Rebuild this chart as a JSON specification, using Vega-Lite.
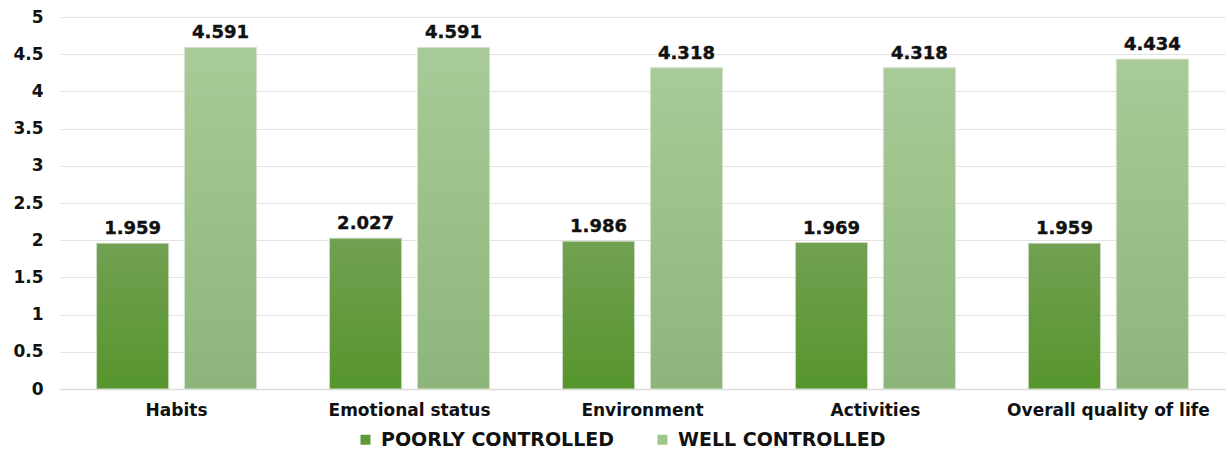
{
  "$schema": "https://vega.github.io/schema/vega-lite/v6.json",
  "autosize": "none",
  "width": 1165,
  "height": 372,
  "padding": {"left": 60, "top": 17, "right": 3, "bottom": 61},
  "background": "white",
  "config": {
    "font": "DejaVu Sans",
    "view": {"stroke": null},
    "axis": {"labelFont": "DejaVu Sans", "labelFontWeight": "bold", "labelColor": "#111111", "labelFontSize": 17}
  },
  "data": {
    "values": [
      {"domain": "Habits", "group": "POORLY CONTROLLED", "score": 1.959},
      {"domain": "Habits", "group": "WELL CONTROLLED", "score": 4.591},
      {"domain": "Emotional status", "group": "POORLY CONTROLLED", "score": 2.027},
      {"domain": "Emotional status", "group": "WELL CONTROLLED", "score": 4.591},
      {"domain": "Environment", "group": "POORLY CONTROLLED", "score": 1.986},
      {"domain": "Environment", "group": "WELL CONTROLLED", "score": 4.318},
      {"domain": "Activities", "group": "POORLY CONTROLLED", "score": 1.969},
      {"domain": "Activities", "group": "WELL CONTROLLED", "score": 4.318},
      {"domain": "Overall quality of life", "group": "POORLY CONTROLLED", "score": 1.959},
      {"domain": "Overall quality of life", "group": "WELL CONTROLLED", "score": 4.434}
    ]
  },
  "encoding": {
    "x": {
      "field": "domain", "type": "nominal", "sort": null,
      "scale": {"paddingInner": 0.313, "paddingOuter": 0.157},
      "axis": {"title": null, "labelAngle": 0, "ticks": false, "domain": true, "domainColor": "#dcdcdc", "domainWidth": 1.5, "labelPadding": 13, "labelLimit": 0}
    },
    "xOffset": {"field": "group", "type": "nominal", "scale": {"paddingInner": 0.18, "paddingOuter": 0}},
    "y": {
      "field": "score", "type": "quantitative",
      "scale": {"domain": [0, 5]},
      "axis": {"title": null, "values": [0, 0.5, 1, 1.5, 2, 2.5, 3, 3.5, 4, 4.5, 5], "labelExpr": "datum.value", "labelFontSize": 17, "domain": false, "ticks": false, "gridColor": "#e3e3e3", "gridWidth": 1.2, "labelPadding": 17}
    }
  },
  "layer": [
    {
      "mark": {"type": "bar"},
      "encoding": {
        "color": {
          "field": "group", "type": "nominal",
          "scale": {"domain": ["POORLY CONTROLLED", "WELL CONTROLLED"], "range": ["#5f9a38", "#9ec58a"]},
          "legend": {
            "title": null, "orient": "none", "direction": "horizontal",
            "legendX": 296, "legendY": 413,
            "symbolType": "square", "symbolSize": 100, "symbolStrokeWidth": 0,
            "labelFont": "DejaVu Sans", "labelFontWeight": "bold", "labelFontSize": 19, "labelColor": "#111111",
            "labelLimit": 0, "columnPadding": 38, "labelOffset": 6
          }
        }
      }
    },
    {
      "transform": [{"filter": "datum.group === 'POORLY CONTROLLED'"}],
      "mark": {
        "type": "bar",
        "stroke": "#cfdcc7", "strokeWidth": 1,
        "fill": {"gradient": "linear", "x1": 0, "y1": 0, "x2": 0, "y2": 1,
          "stops": [{"offset": 0, "color": "#72a052"}, {"offset": 1, "color": "#56952c"}]}
      }
    },
    {
      "transform": [{"filter": "datum.group === 'WELL CONTROLLED'"}],
      "mark": {
        "type": "bar",
        "stroke": "#d6e3cf", "strokeWidth": 1,
        "fill": {"gradient": "linear", "x1": 0, "y1": 0, "x2": 0, "y2": 1,
          "stops": [{"offset": 0, "color": "#a8cb97"}, {"offset": 1, "color": "#8db57b"}]}
      }
    },
    {
      "mark": {"type": "text", "baseline": "bottom", "dy": -5, "fontWeight": "bold", "fontSize": 18, "color": "#111111", "stroke": "#111111", "strokeWidth": 0.4, "font": "DejaVu Sans"},
      "encoding": {
        "text": {"field": "score", "type": "quantitative", "format": ".3f"}
      }
    }
  ]
}
